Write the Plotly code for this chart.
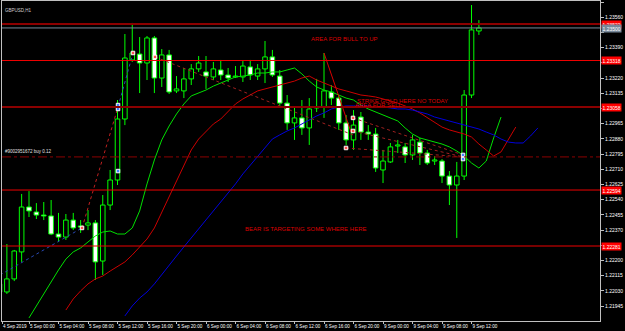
import plotly.graph_objects as go

# ---------------- data ----------------
bar_index = list(range(66))
opens = [1.22069,1.22024,1.22097,1.22248,1.22499,1.22471,1.22454,1.22449,1.22348,1.22331,
         1.22426,1.22393,1.22398,1.22410,1.22197,1.22510,1.22650,1.22991,1.23321,1.23354,
         1.23304,1.23444,1.23220,1.23349,1.23148,1.23148,1.23215,1.23271,1.23254,1.23226,
         1.23265,1.23237,1.23226,1.23226,1.23282,1.23231,1.23271,1.23338,1.23231,1.23080,
         1.22969,1.22997,1.22941,1.23053,1.23058,1.23142,1.23108,1.22969,1.22874,1.23002,
         1.22918,1.22907,1.22706,1.22751,1.22840,1.22835,1.22790,1.22862,1.22801,1.22756,
         1.22756,1.22672,1.22622,1.22672,1.23125,1.23483]
highs = [1.22091,1.22292,1.22259,1.22572,1.22588,1.22521,1.22527,1.22538,1.22466,1.22460,
         1.22466,1.22426,1.22482,1.22426,1.22566,1.22706,1.23097,1.23466,1.23528,1.23449,
         1.23455,1.23455,1.23382,1.23377,1.23231,1.23276,1.23298,1.23343,1.23343,1.23310,
         1.23321,1.23276,1.23287,1.23315,1.23321,1.23298,1.23427,1.23377,1.23265,1.23125,
         1.23058,1.23097,1.23108,1.23215,1.23360,1.23181,1.23125,1.23013,1.23041,1.23030,
         1.22957,1.22941,1.22818,1.22857,1.22874,1.22857,1.22902,1.22885,1.22818,1.22784,
         1.22767,1.22700,1.22751,1.23153,1.23628,1.23544]
lows = [1.22013,1.22013,1.22085,1.22192,1.22443,1.22432,1.22426,1.22342,1.22303,1.22315,
        1.22370,1.22354,1.22370,1.22091,1.22119,1.22482,1.22622,1.22957,1.23310,1.23136,
        1.23209,1.23136,1.23170,1.23131,1.23136,1.23108,1.23181,1.23254,1.23159,1.23209,
        1.23209,1.23198,1.23220,1.23198,1.23209,1.23209,1.23192,1.23226,1.23053,1.22930,
        1.22874,1.22902,1.22846,1.23030,1.22997,1.23069,1.22930,1.22846,1.22818,1.22874,
        1.22874,1.22695,1.22633,1.22745,1.22801,1.22745,1.22762,1.22734,1.22734,1.22734,
        1.22633,1.22510,1.22326,1.22650,1.23108,1.23461]
closes = [1.22024,1.22097,1.22253,1.22499,1.22477,1.22454,1.22449,1.22348,1.22331,1.22426,
          1.22382,1.22387,1.22410,1.22192,1.22510,1.22650,1.22991,1.23332,1.23360,1.23304,
          1.23444,1.23220,1.23349,1.23142,1.23159,1.23215,1.23271,1.23304,1.23231,1.23271,
          1.23237,1.23220,1.23231,1.23287,1.23237,1.23271,1.23338,1.23237,1.23080,1.22969,
          1.22997,1.22941,1.23047,1.23058,1.23148,1.23108,1.22969,1.22874,1.22957,1.22918,
          1.22907,1.22717,1.22756,1.22835,1.22846,1.22790,1.22874,1.22801,1.22745,1.22762,
          1.22672,1.22622,1.22672,1.23125,1.23489,1.23500]

# moving averages (shifted forward), first bar index + values
ma_green_start = 4
ma_green = [1.21879,1.21946,1.22013,1.22085,1.22147,1.22208,1.22248,1.22270,1.22303,1.22337,
            1.22359,1.22365,1.22348,1.22348,1.22382,1.22477,1.22628,1.22762,1.22874,1.22952,
            1.23019,1.23075,1.23120,1.23136,1.23153,1.23175,1.23192,1.23209,1.23226,1.23231,
            1.23237,1.23248,1.23248,1.23254,1.23254,1.23265,1.23276,1.23243,1.23203,1.23170,
            1.23153,1.23142,1.23125,1.23108,1.23097,1.23069,1.23047,1.23030,1.23013,1.22997,
            1.22980,1.22941,1.22907,1.22885,1.22874,1.22862,1.22851,1.22835,1.22812,1.22784,
            1.22745,1.22717,1.22756,1.22885,1.23002]
ma_red_start = 9
ma_red = [1.21923,1.21985,1.22030,1.22069,1.22097,1.22113,1.22141,1.22169,1.22192,1.22231,
          1.22276,1.22320,1.22382,1.22471,1.22561,1.22650,1.22734,1.22818,1.22879,1.22924,
          1.22963,1.22991,1.23036,1.23075,1.23103,1.23125,1.23148,1.23159,1.23170,1.23181,
          1.23192,1.23203,1.23220,1.23231,1.23209,1.23192,1.23175,1.23159,1.23148,1.23136,
          1.23125,1.23120,1.23114,1.23103,1.23092,1.23080,1.23064,1.23047,1.23025,1.22997,
          1.22969,1.22946,1.22930,1.22918,1.22907,1.22890,1.22851,1.22818,1.22784,1.22807,
          1.22874,1.22946]
ma_blue_start = 17
ma_blue = [1.21890,1.21946,1.21990,1.22024,1.22069,1.22119,1.22175,1.22225,1.22276,1.22326,
           1.22376,1.22426,1.22477,1.22527,1.22577,1.22628,1.22684,1.22734,1.22784,1.22835,
           1.22879,1.22902,1.22924,1.22941,1.22963,1.22985,1.23008,1.23025,1.23047,1.23058,
           1.23064,1.23064,1.23064,1.23064,1.23058,1.23058,1.23053,1.23047,1.23047,1.23041,
           1.23030,1.23019,1.23002,1.22991,1.22980,1.22969,1.22957,1.22946,1.22935,1.22918,
           1.22902,1.22879,1.22862,1.22857,1.22857,1.22896,1.22941]

# horizontal levels
level_prices = [1.23522, 1.23318, 1.23058, 1.22594, 1.22281]
level_colors = ["#8b0000", "#ee0000", "#8b0000", "#ee0000", "#ee0000"]
level_widths = [2, 1, 2, 1, 1]
bid_price = 1.23500
order_price = 1.22779
order_label = "#9002951672 buy 0.12"

# trade history lines (start bar, start price, end bar, end price)
trade_x0 = [0.07, 11.19, 16.07, 21.08, 47.93, 47.93, 46.98]
trade_y0 = [1.22119, 1.22382, 1.23058, 1.23338, 1.22997, 1.22924, 1.22829]
trade_x1 = [11.19, 16.07, 18.10, 47.93, 62.85, 62.85, 62.85]
trade_y1 = [1.22382, 1.23058, 1.23360, 1.22902, 1.22790, 1.22779, 1.22779]
trade_col = ["#2848b0", "#c02020", "#2848b0", "#a02020", "#a02020", "#a02020", "#a02020"]

# drawn trend segment
trend_x = [44.0, 47.66]
trend_y = [1.23360, 1.22918]

# trade arrows
sell_x = [11.19, 18.10, 47.93, 47.93, 46.98, 21.08]
sell_y = [1.22382, 1.23360, 1.22997, 1.22924, 1.22829, 1.23338]
buy_x = [16.07, 16.07, 16.07, 62.85, 62.85]
buy_y = [1.23069, 1.23047, 1.22700, 1.22790, 1.22767]

# text notes (left bar, price)
note_text = ["AREA FOR BULL TO UP", "STRIKE GOLD HERE NO TODAY", "AREA FOR SELL",
             "BEAR IS TARGETING SOME WHERE HERE"]
note_x = [41.97, 48.2, 47.93, 33.0]
note_y = [1.23438, 1.23092, 1.23069, 1.22376]

# axes (labels hidden behind the price boxes are left blank)
y_tick_vals = [1.21945,1.22030,1.22115,1.22200,1.22285,1.22370,1.22455,1.22540,1.22625,1.22710,
               1.22795,1.22880,1.22965,1.23050,1.23135,1.23220,1.23305,1.23390,1.23475,1.23560,1.23645]
y_tick_hidden = [1.22285, 1.23050, 1.23305, 1.23475]
x_tick_pos = [0.34, 4, 8, 12, 16, 20, 24, 28, 32, 36, 40, 44, 48, 52, 56, 60, 64]
x_tick_text = ["4 Sep 2019", "5 Sep 00:00", "5 Sep 04:00", "5 Sep 08:00", "5 Sep 12:00",
               "5 Sep 16:00", "5 Sep 20:00", "6 Sep 00:00", "6 Sep 04:00", "6 Sep 08:00",
               "6 Sep 12:00", "6 Sep 16:00", "6 Sep 20:00", "9 Sep 00:00", "9 Sep 04:00",
               "9 Sep 08:00", "9 Sep 12:00"]

X_RANGE = [0.339, 81.42]
Y_RANGE = [1.218618, 1.236506]
LIME = "#00ff00"
FONT = "Liberation Sans"

fig = go.Figure()

# wicks
wx, wy = [], []
for i, o, h, l, c in zip(bar_index, opens, highs, lows, closes):
    top, bot = max(o, c), min(o, c)
    wx += [i, i, None, i, i, None]
    wy += [h, top, None, bot, l, None]
fig.add_trace(go.Scatter(x=wx, y=wy, mode="lines", line=dict(color=LIME, width=1),
                         hoverinfo="skip"))

# bodies
base = [min(o, c) for o, c in zip(opens, closes)]
height = [max(abs(c - o), 0.000006) for o, c in zip(opens, closes)]
fills = ["black" if c >= o else "white" for o, c in zip(opens, closes)]
fig.add_trace(go.Bar(x=bar_index, y=height, base=base, width=0.62,
                     marker=dict(color=fills, line=dict(color=LIME, width=1))))

# MAs
for start, vals, col in [(ma_green_start, ma_green, "#00e000"),
                         (ma_red_start, ma_red, "#cc0000"),
                         (ma_blue_start, ma_blue, "#0000dd")]:
    fig.add_trace(go.Scatter(x=list(range(start, start + len(vals))), y=vals, mode="lines",
                             line=dict(color=col, width=1)))

# trade lines
for x0, y0, x1, y1, col in zip(trade_x0, trade_y0, trade_x1, trade_y1, trade_col):
    fig.add_trace(go.Scatter(x=[x0, x1], y=[y0, y1], mode="lines",
                             line=dict(color=col, width=1, dash="dot")))
fig.add_trace(go.Scatter(x=trend_x, y=trend_y, mode="lines", line=dict(color="#dd0000", width=1)))

fig.add_trace(go.Scatter(x=sell_x, y=sell_y, mode="markers",
                         marker=dict(symbol="square", size=3.5, color="#ff5050",
                                     line=dict(color="white", width=1))))
fig.add_trace(go.Scatter(x=buy_x, y=buy_y, mode="markers",
                         marker=dict(symbol="square", size=3.5, color="#4080ff",
                                     line=dict(color="white", width=1))))

shapes = []
anns = []
for p, col, w in zip(level_prices, level_colors, level_widths):
    shapes.append(dict(type="line", xref="paper", x0=0, x1=1, yref="y", y0=p, y1=p,
                       line=dict(color=col, width=w)))
    anns.append(dict(xref="paper", x=1, xanchor="left", xshift=1, yref="y", y=p,
                     text="%.5f" % p, showarrow=False, bgcolor="#ff0000",
                     font=dict(size=5, color="white", family=FONT), borderpad=0.5))
shapes.append(dict(type="line", xref="paper", x0=0, x1=1, yref="y", y0=bid_price, y1=bid_price,
                   line=dict(color="#778899", width=1)))
anns.append(dict(xref="paper", x=1, xanchor="left", xshift=1, yref="y", y=bid_price,
                 yshift=-1, text="%.5f" % bid_price, showarrow=False, bgcolor="#778899",
                 font=dict(size=5, color="white", family=FONT), borderpad=0.5))
shapes.append(dict(type="line", xref="paper", x0=0, x1=1, yref="y", y0=order_price, y1=order_price,
                   line=dict(color="#8b0000", width=1, dash="dashdot")))
anns.append(dict(xref="paper", x=0.002, xanchor="left", yref="y", y=order_price, yanchor="bottom",
                 yshift=1, text=order_label, showarrow=False,
                 font=dict(size=4.5, color="#e0e0e0", family=FONT)))

for t, x, y in zip(note_text, note_x, note_y):
    anns.append(dict(x=x, y=y, xanchor="left", yanchor="middle", text=t, showarrow=False,
                     font=dict(size=6, color="#dd0000", family=FONT)))

anns.append(dict(xref="paper", yref="paper", x=0.002, y=0.985, xanchor="left", yanchor="top",
                 text="GBPUSD,H1", showarrow=False,
                 font=dict(size=4.5, color="#d0d0d0", family=FONT)))

fig.update_layout(
    width=625, height=331, margin=dict(l=2, r=25, t=1, b=10),
    paper_bgcolor="black", plot_bgcolor="black", showlegend=False,
    barmode="overlay", shapes=shapes, annotations=anns,
    xaxis=dict(range=X_RANGE, tickmode="array", tickvals=x_tick_pos, ticktext=x_tick_text,
               ticks="outside", ticklen=2, tickcolor="#c0c0c0", showline=True,
               linecolor="#c0c0c0", mirror=True, showgrid=False, zeroline=False,
               automargin=False, ticklabelposition="outside right", tickangle=0,
               ticklabelstandoff=0,
               tickfont=dict(size=4.6, color="white", family=FONT)),
    yaxis=dict(range=Y_RANGE, side="right", tickmode="array", tickvals=y_tick_vals,
               ticktext=["" if v in y_tick_hidden else "%.5f" % v for v in y_tick_vals],
               ticks="outside", ticklen=3, tickcolor="#c0c0c0", showline=True,
               linecolor="#c0c0c0", mirror=True, showgrid=False, zeroline=False,
               automargin=False, tickfont=dict(size=5, color="white", family=FONT)),
)

fig.write_html("out.html")
